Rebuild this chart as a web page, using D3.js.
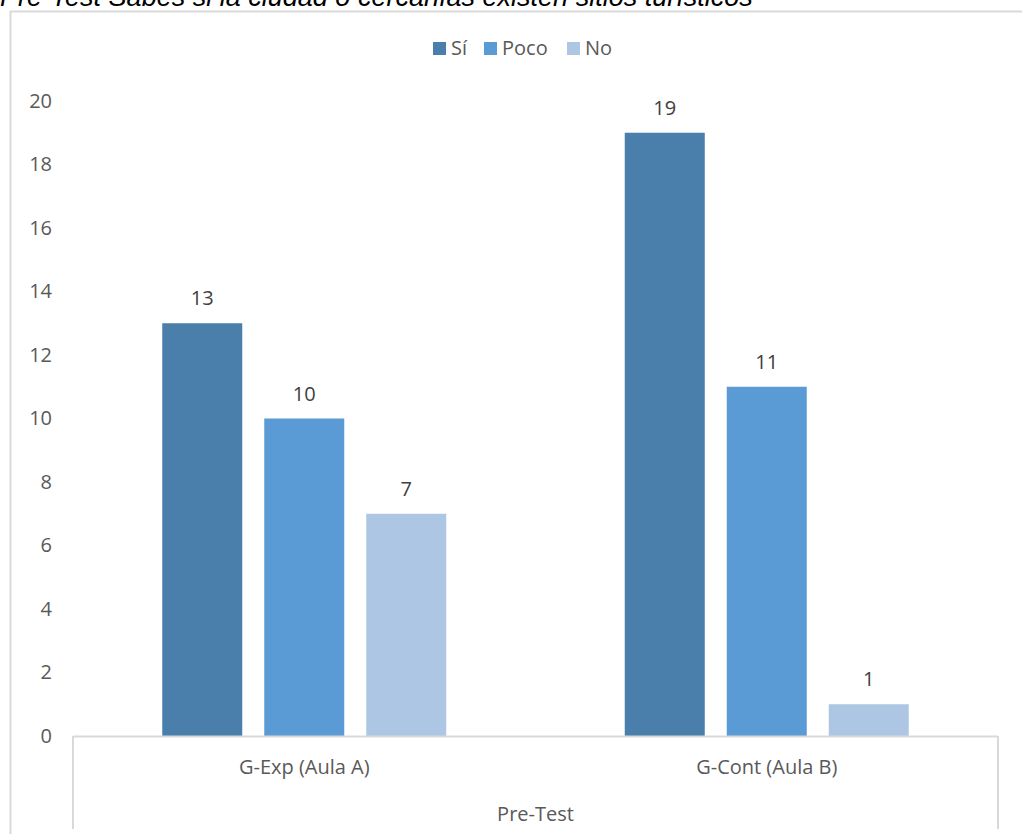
<!DOCTYPE html>
<html>
<head>
<meta charset="utf-8">
<script src="https://cdn.jsdelivr.net/npm/d3@7"></script>
<style>
  html, body { margin: 0; padding: 0; background: #fff; }
  svg { display: block; }
</style>
</head>
<body>
<svg id="chart" width="1022" height="834"></svg>
<script>
const titleText = "Pre-Test Sabes si la ciudad o cercanías existen sitios turísticos";
const categories = ["G-Exp (Aula A)", "G-Cont (Aula B)"];
const groupLabel = "Pre-Test";
const seriesNames = ["Sí", "Poco", "No"];
const siValues = [13, 19];
const pocoValues = [10, 11];
const noValues = [7, 1];
const yTicks = [0, 2, 4, 6, 8, 10, 12, 14, 16, 18, 20];
const colors = ["#4a7eab", "#5b9bd5", "#adc6e4"];

const seriesValues = [siValues, pocoValues, noValues];
const data = categories.map((c, i) => ({
  cat: c,
  vals: seriesNames.map((s, j) => ({ series: s, value: seriesValues[j][i] }))
}));

const svg = d3.select("#chart");
const font = "'Open Sans', Calibri, sans-serif";
const fs = 20;

// outer chart border
svg.append("rect")
  .attr("x", 10.5).attr("y", 11.5)
  .attr("width", 1040).attr("height", 900)
  .attr("fill", "none").attr("stroke", "#d9d9d9").attr("stroke-width", 2);

// title (clipped at top, as in the reference)
const title = svg.append("text")
  .attr("x", 0).attr("y", 6)
  .attr("font-family", "Arial, 'Liberation Sans', sans-serif")
  .attr("font-style", "italic")
  .attr("font-size", 23)
  .attr("fill", "#000")
  .text(titleText);
const tw = title.node().getComputedTextLength();
title.attr("font-size", 23 * 753 / tw);

const plotLeft = 73, plotRight = 998, plotTop = 101, plotBottom = 736;

const x0 = d3.scaleBand().domain(categories).range([plotLeft, plotRight]).paddingInner(0).paddingOuter(0);
const groupWidth = 284;
const x1 = d3.scaleBand().domain(seriesNames).range([0, groupWidth]).paddingInner(22 / 102).paddingOuter(0);
const y = d3.scaleLinear().domain([0, 20]).range([plotBottom, plotTop]);

// y axis labels
const yAxis = d3.axisLeft(y).tickValues(yTicks).tickSize(0).tickPadding(0);
const yg = svg.append("g").attr("transform", `translate(52,0)`).call(yAxis);
yg.select(".domain").remove();
yg.selectAll("text")
  .attr("font-family", font).attr("font-size", fs).attr("fill", "#595959");

// bars
const groups = svg.append("g").selectAll("g").data(data).join("g")
  .attr("transform", d => `translate(${x0(d.cat) + (x0.bandwidth() - groupWidth) / 2},0)`);

groups.selectAll("rect").data(d => d.vals).join("rect")
  .attr("x", d => x1(d.series))
  .attr("width", x1.bandwidth())
  .attr("y", d => y(d.value))
  .attr("height", d => y(0) - y(d.value))
  .attr("fill", (d, i) => colors[i]);

groups.selectAll("text.lbl").data(d => d.vals).join("text")
  .attr("class", "lbl")
  .attr("x", d => x1(d.series) + x1.bandwidth() / 2)
  .attr("y", d => y(d.value) - 18)
  .attr("text-anchor", "middle")
  .attr("font-family", font).attr("font-size", fs).attr("fill", "#404040")
  .text(d => d.value);

// category axis lines
const axisColor = "#d9d9d9";
svg.append("line").attr("x1", plotLeft).attr("x2", plotRight).attr("y1", plotBottom + 0.5).attr("y2", plotBottom + 0.5)
  .attr("stroke", axisColor).attr("stroke-width", 2);
svg.append("line").attr("x1", plotLeft).attr("x2", plotLeft).attr("y1", plotBottom).attr("y2", 829)
  .attr("stroke", axisColor).attr("stroke-width", 2);
svg.append("line").attr("x1", plotRight).attr("x2", plotRight).attr("y1", plotBottom).attr("y2", 829)
  .attr("stroke", axisColor).attr("stroke-width", 2);

// category labels
const xAxis = d3.axisBottom(x0).tickSize(0).tickPadding(0);
const xg = svg.append("g").attr("transform", `translate(0,774)`).call(xAxis);
xg.select(".domain").remove();
xg.selectAll("text")
  .attr("font-family", font).attr("font-size", fs).attr("fill", "#595959")
  .attr("dy", 0);

svg.append("text")
  .attr("x", (plotLeft + plotRight) / 2).attr("y", 821)
  .attr("text-anchor", "middle")
  .attr("font-family", font).attr("font-size", fs).attr("fill", "#595959")
  .text(groupLabel);

// legend
const legendX = [433, 484, 567];
const leg = svg.append("g").selectAll("g").data(seriesNames).join("g")
  .attr("transform", (d, i) => `translate(${legendX[i]},42)`);
leg.append("rect").attr("width", 13).attr("height", 13).attr("fill", (d, i) => colors[i]);
leg.append("text").attr("x", 18).attr("y", 13)
  .attr("font-family", font).attr("font-size", fs).attr("fill", "#595959")
  .text(d => d);
</script>
</body>
</html>
